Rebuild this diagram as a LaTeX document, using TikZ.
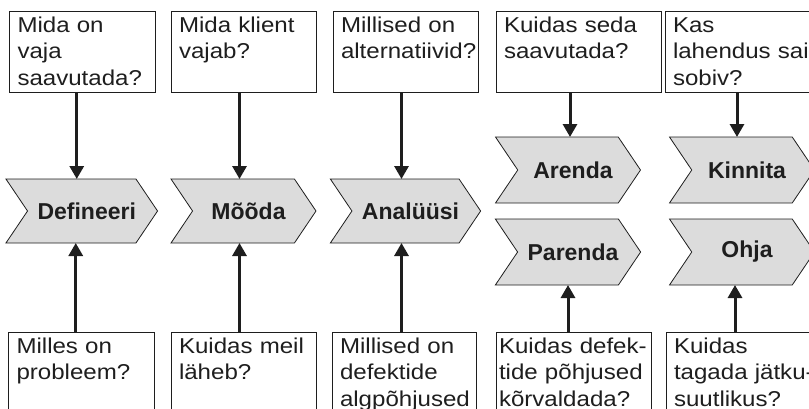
\documentclass[tikz,border=0pt]{standalone}
\usepackage{fontspec}
\setmainfont{Liberation Sans}
\newfontfamily\boxfont[FakeStretch=1.12]{Liberation Sans}
\usetikzlibrary{shapes.symbols,arrows.meta}
\hyphenpenalty=10000
\definecolor{chevgray}{RGB}{220,220,220}
\definecolor{ink}{RGB}{30,30,30}

\begin{document}
\begin{tikzpicture}[x=1pt,y=-1pt,
            qbox/.style={draw=ink, line width=1pt, anchor=north west, align=left, inner xsep=8pt, inner ysep=0pt, outer sep=0pt,
                text height=21pt, text depth=60pt, text width=129.5pt, text=ink, font=\boxfont\fontsize{21.5}{26.5}\selectfont},
            phase/.style={signal, signal from=west, signal to=east, signal pointer angle=112, draw=ink, line width=0.8pt,
                fill=chevgray, minimum width=145pt, minimum height=64pt, inner sep=0pt, outer sep=0pt, text=ink,
                font=\bfseries\fontsize{23}{27}\selectfont, execute at begin node={\hspace*{10pt}}},
            arr/.style={draw=ink, line width=3pt, -{Triangle[width=14pt,length=13pt]}}]
            \useasboundingbox (0,0) rectangle (809,408);
            \clip (0,0) rectangle (809,408);
            % questions above
            \node[qbox] (q1) at (9.5,11) {Mida on\\vaja\\saavutada?};
            \node[qbox] (q2) at (171,11) {Mida klient\\vajab?};
            \node[qbox] (q3) at (333,11) {Millised on\\alternatiivid?};
            \node[qbox, text width=149pt] (q4) at (496,11) {Kuidas seda\\saavutada?};
            \node[qbox, text width=149pt] (q5) at (665,11) {Kas\\lahendus sai\\sobiv?};
            % phases
            \node[phase] (c1) at (81.75,211) {Defineeri};
            \node[phase] (c2) at (243.5,211) {Mõõda};
            \node[phase] (c3) at (405.5,211) {Analüüsi};
            \node[phase, minimum height=66pt] (c4) at (568,170) {Arenda};
            \node[phase, minimum height=66pt] (c5) at (742,170) {Kinnita};
            \node[phase, minimum height=66pt] (c6) at (568,252) {Parenda};
            \node[phase, minimum height=66pt] (c7) at (742,252) {Ohja};
            % questions below
            \node[qbox] (p1) at (8.5,332) {Milles on\\probleem?};
            \node[qbox] (p2) at (171,332) {Kuidas meil\\läheb?};
            \node[qbox, text width=128pt] (p3) at (332,332) {Millised on\\defektide\\algpõhjused};
            \node[qbox, inner xsep=3pt, text width=149pt] (p4) at (496,332) {Kuidas defek-\\tide põhjused\\kõrvaldada?};
            \node[qbox, text width=149pt] (p5) at (666,332) {Kuidas\\tagada jätku-\\suutlikus?};
            % arrows
            \draw[arr, transform canvas={xshift=-5pt}] (c1.north |- q1.south) -- (c1.north);
            \draw[arr, transform canvas={xshift=-4pt}] (c2.north |- q2.south) -- (c2.north);
            \draw[arr, transform canvas={xshift=-4pt}] (c3.north |- q3.south) -- (c3.north);
            \draw[arr, transform canvas={xshift=2pt}] (c4.north |- q4.south) -- (c4.north);
            \draw[arr, transform canvas={xshift=-5pt}] (c5.north |- q5.south) -- (c5.north);
            \draw[arr, transform canvas={xshift=-6pt}] (c1.south |- p1.north) -- (c1.south);
            \draw[arr, transform canvas={xshift=-4pt}] (c2.south |- p2.north) -- (c2.south);
            \draw[arr, transform canvas={xshift=-4pt}] (c3.south |- p3.north) -- (c3.south);
            \draw[arr] (c6.south |- p4.north) -- (c6.south);
            \draw[arr, transform canvas={xshift=-7pt}] (c7.south |- p5.north) -- (c7.south);
        \end{tikzpicture}
\end{document}
